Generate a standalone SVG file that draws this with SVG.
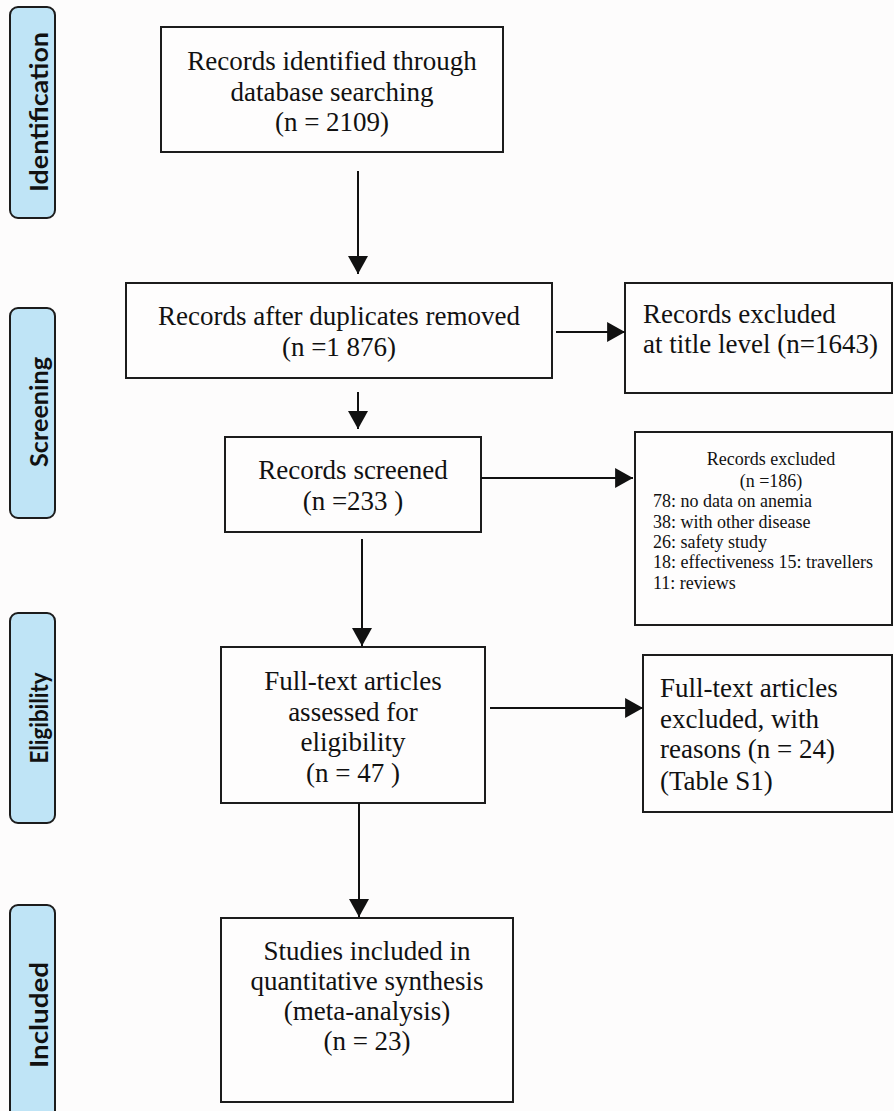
<svg xmlns="http://www.w3.org/2000/svg" width="894" height="1111" viewBox="0 0 894 1111">
<style>
.bg{fill:#fdfcfc}
.box{fill:#fefdfd;stroke:#1c1c1c;stroke-width:2}
.side{fill:#bfe4f6;stroke:#1c1c1c;stroke-width:2}
.t{font-family:"Liberation Serif","Times New Roman",serif;font-size:27px;fill:#111}
.s{font-family:"Liberation Serif","Times New Roman",serif;font-size:18px;fill:#111}
.m{text-anchor:middle}
.lab{font-family:Lato,"Open Sans",sans-serif;font-weight:700;font-size:25px;fill:#111;text-anchor:middle}
.con{stroke:#111;stroke-width:2;fill:none;marker-end:url(#ah)}
</style>
<defs>
<marker id="ah" markerUnits="userSpaceOnUse" markerWidth="18" markerHeight="20" viewBox="0 0 17 19" refX="17" refY="9.5" orient="auto">
<path d="M0,0 L17,9.5 L0,19 z" fill="#111"/>
</marker>
</defs>
<rect class="bg" x="0" y="0" width="894" height="1111"/>

<g id="label-identification">
<rect class="side" x="10" y="7" width="45" height="211" rx="8"/>
<text class="lab" transform="translate(48,112) rotate(-90)" textLength="160" lengthAdjust="spacingAndGlyphs">Identification</text>
</g>
<g id="label-screening">
<rect class="side" x="10" y="308" width="45" height="210" rx="8"/>
<text class="lab" transform="translate(48,412) rotate(-90)" textLength="110" lengthAdjust="spacingAndGlyphs">Screening</text>
</g>
<g id="label-eligibility">
<rect class="side" x="10" y="613" width="45" height="210" rx="8"/>
<text class="lab" transform="translate(48,718) rotate(-90)" textLength="91" lengthAdjust="spacingAndGlyphs">Eligibility</text>
</g>
<g id="label-included">
<rect class="side" x="10" y="905" width="45" height="220" rx="8"/>
<text class="lab" transform="translate(48,1015) rotate(-90)" textLength="106" lengthAdjust="spacingAndGlyphs">Included</text>
</g>

<g id="identified">
<rect class="box" x="161" y="27" width="342" height="125"/>
<text class="t m" x="332" y="70">Records identified through</text>
<text class="t m" x="332" y="101">database searching</text>
<text class="t m" x="332" y="131">(n = 2109)</text>
</g>
<g id="after-duplicates">
<rect class="box" x="126" y="283" width="426" height="95"/>
<text class="t m" x="339" y="325">Records after duplicates removed</text>
<text class="t m" x="339" y="356">(n =1 876)</text>
</g>
<g id="excluded-title">
<rect class="box" x="625" y="283" width="267" height="110"/>
<text class="t" x="643" y="323">Records excluded</text>
<text class="t" x="643" y="353">at title level (n=1643)</text>
</g>
<g id="screened">
<rect class="box" x="225" y="437" width="256" height="95"/>
<text class="t m" x="353" y="479">Records screened</text>
<text class="t m" x="353" y="510">(n =233 )</text>
</g>
<g id="excluded-186">
<rect class="box" x="635" y="432" width="257" height="193"/>
<text class="s m" x="771" y="465">Records excluded</text>
<text class="s m" x="771" y="487">(n =186)</text>
<text class="s" x="653" y="507">78: no data on anemia</text>
<text class="s" x="653" y="528">38: with other disease</text>
<text class="s" x="653" y="548">26: safety study</text>
<text class="s" x="653" y="568">18: effectiveness 15: travellers</text>
<text class="s" x="653" y="589">11: reviews</text>
</g>
<g id="full-text">
<rect class="box" x="221" y="647" width="264" height="156"/>
<text class="t m" x="353" y="690">Full-text articles</text>
<text class="t m" x="353" y="721">assessed for</text>
<text class="t m" x="353" y="751">eligibility</text>
<text class="t m" x="353" y="782">(n = 47 )</text>
</g>
<g id="excluded-reasons">
<rect class="box" x="643" y="655" width="249" height="157"/>
<text class="t" x="660" y="697">Full-text articles</text>
<text class="t" x="660" y="728">excluded, with</text>
<text class="t" x="660" y="758">reasons (n = 24)</text>
<text class="t" x="660" y="790">(Table S1)</text>
</g>
<g id="included">
<rect class="box" x="221" y="918" width="292" height="184"/>
<text class="t m" x="367" y="960">Studies included in</text>
<text class="t m" x="367" y="990">quantitative synthesis</text>
<text class="t m" x="367" y="1020">(meta-analysis)</text>
<text class="t m" x="367" y="1050">(n = 23)</text>
</g>

<g id="connectors">
<line class="con" x1="358" y1="171" x2="358" y2="274"/>
<line class="con" x1="358" y1="392" x2="358" y2="429"/>
<line class="con" x1="362" y1="539" x2="362" y2="646"/>
<line class="con" x1="359" y1="803" x2="359" y2="917"/>
<line class="con" x1="556" y1="332" x2="625" y2="332"/>
<line class="con" x1="481" y1="478" x2="633" y2="478"/>
<line class="con" x1="490" y1="708" x2="643" y2="708"/>
</g>
</svg>
